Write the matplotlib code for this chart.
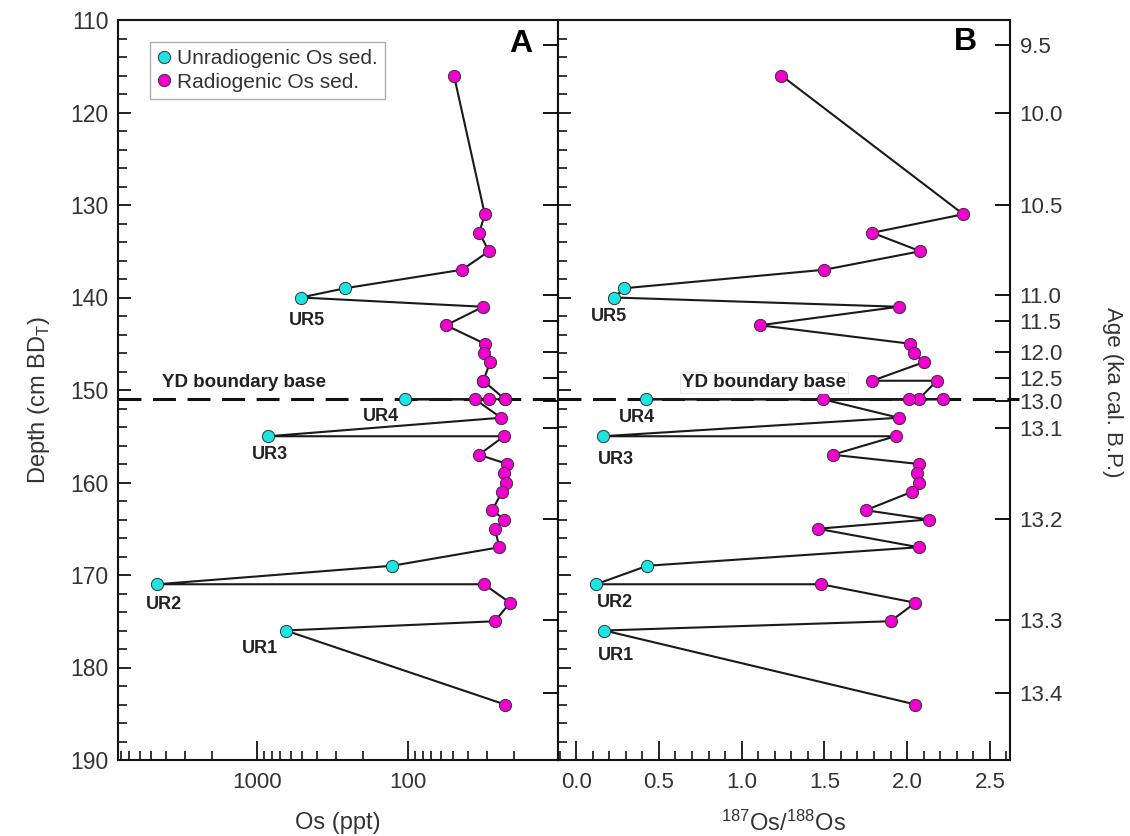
import matplotlib
matplotlib.use("Agg")
import matplotlib.pyplot as plt
import matplotlib.ticker as mticker
import matplotlib.transforms as mtransforms
import numpy as np

plt.rcParams['font.family'] = ['Liberation Sans', 'DejaVu Sans']
plt.rcParams['mathtext.fontset'] = 'custom'
plt.rcParams['mathtext.rm'] = 'Liberation Sans'

# ---------------- data ----------------
depth = [116, 131, 133, 135, 137, 139, 140, 141, 143, 145, 146, 147, 149, 149,
         151, 151, 151, 151, 151, 153, 155, 155, 157, 158, 159, 160, 161, 163,
         164, 165, 167, 169, 171, 171, 173, 175, 176, 184]
os_ppt = [49.6, 31, 33.7, 29.1, 43.8, 261, 513, 31.8, 56, 31, 31.4, 28.6, 31.7, 31.7,
          22.8, 22.8, 104, 29, 36, 24.2, 841, 23.1, 33.9, 22, 23, 22.5, 23.8, 27.7,
          23, 26.6, 24.8, 127, 4570, 31.4, 21.1, 26.6, 646, 22.8]
os_ratio = [1.24, 2.34, 1.79, 2.08, 1.50, 0.29, 0.23, 1.95, 1.11, 2.02, 2.04, 2.10, 1.79, 2.18,
            2.07, 2.22, 0.42, 2.01, 1.49, 1.95, 0.16, 1.93, 1.55, 2.07, 2.06, 2.07, 2.03, 1.75,
            2.13, 1.46, 2.07, 0.43, 0.12, 1.48, 2.05, 1.90, 0.17, 2.05]
sed_type = ['R', 'R', 'R', 'R', 'R', 'U', 'U', 'R', 'R', 'R', 'R', 'R', 'R', 'R',
            'R', 'R', 'U', 'R', 'R', 'R', 'U', 'R', 'R', 'R', 'R', 'R', 'R', 'R',
            'R', 'R', 'R', 'U', 'U', 'R', 'R', 'R', 'U', 'R']

ur_names = ['UR1', 'UR2', 'UR3', 'UR4', 'UR5']
ur_depths = [176, 171, 155, 151, 140]

age_labels = ['9.5', '10.0', '10.5', '11.0', '11.5', '12.0', '12.5', '13.0',
              '13.1', '13.2', '13.3', '13.4']
age_depths = [112.7, 120.1, 130.0, 139.7, 142.5, 145.9, 148.7, 151.2,
              154.1, 163.9, 174.9, 182.8]

yd_depth = 151

# ---------------- styling ----------------
C_UNRAD = '#1DE3E3'
C_RAD = '#F200CF'
EDGE = '#333333'
LINE = '#1a1a1a'

W, H = 1130, 836
fig = plt.figure(figsize=(W / 100, H / 100), dpi=100)

def fx(px):
    return px / W

def fy(py):
    return 1 - py / H

axA = fig.add_axes([fx(118), fy(760), fx(558) - fx(118), fy(20) - fy(760)])
axB = fig.add_axes([fx(558), fy(760), fx(1010) - fx(558), fy(20) - fy(760)])

depth_a = np.array(depth)
os_a = np.array(os_ppt)
rat_a = np.array(os_ratio)
typ = np.array(sed_type)
is_u = typ == 'U'

for ax, xs in ((axA, os_a), (axB, rat_a)):
    ax.plot(xs, depth_a, color=LINE, lw=1.5, zorder=2)
    ax.plot(xs[~is_u], depth_a[~is_u], 'o', ms=8.8, mfc=C_RAD, mec=EDGE, mew=0.7,
            zorder=3, ls='none', label='Radiogenic Os sed.')
    ax.plot(xs[is_u], depth_a[is_u], 'o', ms=8.8, mfc=C_UNRAD, mec=EDGE, mew=0.7,
            zorder=4, ls='none', label='Unradiogenic Os sed.')
    ax.set_ylim(190, 110)
    for s in ax.spines.values():
        s.set_linewidth(1.5)
        s.set_color('#111111')
    ax.yaxis.set_major_locator(mticker.MultipleLocator(10))
    ax.yaxis.set_minor_locator(mticker.MultipleLocator(2))
    ax.tick_params(axis='y', which='major', direction='in', length=9, width=1.3,
                   left=True, right=False, labelsize=16.5, pad=7, colors='#111111')
    ax.tick_params(axis='y', which='minor', direction='in', length=6.5, width=1.1,
                   left=True, right=False)
    ax.tick_params(axis='x', which='major', direction='in', length=13.5, width=1.3,
                   top=False, labelsize=16, pad=9, colors='#111111')
    ax.tick_params(axis='x', which='minor', direction='in', length=6.5, width=1.1, top=False)
    ax.tick_params(labelcolor='#333333')

# Panel A x axis: log, reversed
axA.set_xscale('log')
axA.set_xlim(8330, 10.15)
axA.xaxis.set_major_locator(mticker.FixedLocator([1000, 100]))
axA.xaxis.set_major_formatter(mticker.FixedFormatter(['1000', '100']))
axA.xaxis.set_minor_locator(mticker.FixedLocator(
    [k * 1000 for k in range(2, 9)] + [k * 100 for k in range(2, 10)] + [k * 10 for k in range(2, 10)]))
axA.xaxis.set_minor_formatter(mticker.NullFormatter())
axA.tick_params(axis='y', labelleft=True)

# Panel B x axis
axB.set_xlim(-0.11, 2.622)
axB.xaxis.set_major_locator(mticker.MultipleLocator(0.5))
axB.xaxis.set_minor_locator(mticker.MultipleLocator(0.1))
axB.xaxis.set_major_formatter(mticker.FormatStrFormatter('%.1f'))
axB.tick_params(axis='y', labelleft=False)

# Age ticks on right spines
for ax, show in ((axA, False), (axB, True)):
    tw = ax.twinx()
    tw.set_ylim(190, 110)
    tw.yaxis.set_major_locator(mticker.FixedLocator(age_depths))
    tw.yaxis.set_major_formatter(mticker.FixedFormatter(age_labels))
    tw.yaxis.set_minor_locator(mticker.NullLocator())
    tw.tick_params(axis='y', direction='in', length=11, width=1.3, right=True,
                   labelright=show, labelsize=16, pad=7, labelcolor='#333333')
    for s in tw.spines.values():
        s.set_visible(False)

# YD boundary line
axA.axhline(yd_depth, color='#111111', lw=2.2, dashes=(7.5, 3.8), zorder=1)
axB.plot([0, 1.02], [yd_depth, yd_depth], transform=mtransforms.blended_transform_factory(axB.transAxes, axB.transData),
         color='#111111', lw=2.2, dashes=(7.5, 3.8), zorder=1, clip_on=False)

tA = mtransforms.blended_transform_factory(axA.transAxes, axA.transData)
tB = mtransforms.blended_transform_factory(axB.transAxes, axB.transData)
axA.text(0.10, 149.2, 'YD boundary base', transform=tA, fontsize=13.5, fontweight='bold',
         color='#222222', va='center', ha='left')
axB.text(0.274, 149.2, 'YD boundary base', transform=tB, fontsize=13.5, fontweight='bold',
         color='#222222', va='center', ha='left',
         bbox=dict(boxstyle='square,pad=0.1', fc='white', ec='#e6e6e6', lw=0.8), zorder=5)

# UR labels, offset from their unradiogenic points (pixels)
offA = {'UR1': (-26, -18), 'UR2': (7, -20), 'UR3': (2, -18), 'UR4': (-24, -17), 'UR5': (6, -23)}
offB = {'UR1': (12, -25), 'UR2': (19, -18), 'UR3': (13, -23), 'UR4': (-9, -18), 'UR5': (-5, -19)}
for name, d in zip(ur_names, ur_depths):
    idx = [i for i in range(len(depth)) if depth[i] == d and sed_type[i] == 'U'][0]
    axA.annotate(name, (os_ppt[idx], depth[idx]), xytext=offA[name], textcoords='offset pixels',
                 ha='center', va='center', fontsize=13, fontweight='bold', color='#222222')
    axB.annotate(name, (os_ratio[idx], depth[idx]), xytext=offB[name], textcoords='offset pixels',
                 ha='center', va='center', fontsize=13, fontweight='bold', color='#222222')

# Panel letters
axA.text(0.941, 0.968, 'A', transform=axA.transAxes, fontsize=23, fontweight='bold',
         ha='right', va='center')
axB.text(0.927, 0.970, 'B', transform=axB.transAxes, fontsize=23, fontweight='bold',
         ha='right', va='center')

# Legend
h, l = axA.get_legend_handles_labels()
leg = axA.legend([h[1], h[0]], [l[1], l[0]], loc='upper left', bbox_to_anchor=(0.0727, 0.970),
                 borderaxespad=0, fontsize=15, frameon=True, fancybox=False,
                 handlelength=0.6, handletextpad=0.35, labelspacing=0.2, borderpad=0.35)
leg.get_frame().set_edgecolor('#999999')
leg.get_frame().set_linewidth(1.0)
for t in leg.get_texts():
    t.set_color('#333333')

# Axis labels
fig.text(fx(338), fy(823), 'Os (ppt)', fontsize=17, ha='center', va='center', color='#333333')
fig.text(fx(783), fy(823), r'$\mathregular{^{187}Os/^{188}Os}$', fontsize=17, ha='center',
         va='center', color='#333333')
fig.text(fx(39), fy(400), r'Depth (cm BD$_\mathregular{T}$)', fontsize=17, rotation=90,
         ha='center', va='center', color='#333333')
fig.text(fx(1112), fy(392), 'Age (ka cal. B.P.)', fontsize=16, rotation=270,
         ha='center', va='center', color='#333333')

fig.savefig('out.png', dpi=100)
